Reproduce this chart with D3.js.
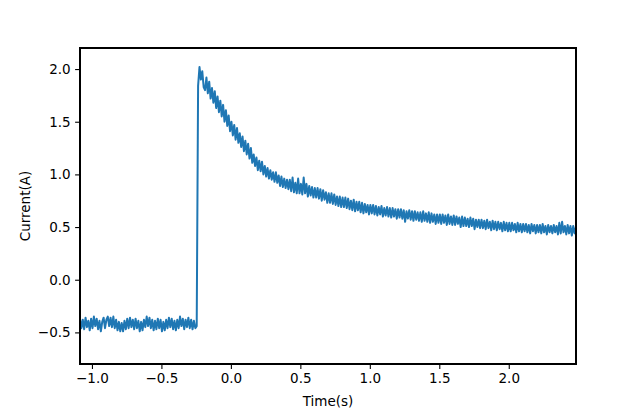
<!DOCTYPE html>
<html>
<head>
<meta charset="utf-8">
<script src="https://cdn.jsdelivr.net/npm/d3@7"></script>
<style>
  html, body { margin: 0; padding: 0; background: #fff; }
  text { font-family: "DejaVu Sans", sans-serif; }
</style>
</head>
<body>
<svg id="chart" width="640" height="409"></svg>
<script>
// ---- data ----
const timeStart = -1.086;   // s, first sample
const sampleStep = 0.01;    // s, sampling interval
const currentValues = [
  -0.37,-0.46,-0.38,-0.47,-0.36,-0.45,-0.39,-0.48,-0.37,-0.46,
  -0.35,-0.44,-0.37,-0.47,-0.39,-0.49,-0.40,-0.36,-0.46,-0.38,
  -0.35,-0.44,-0.36,-0.45,-0.35,-0.46,-0.38,-0.48,-0.40,-0.49,
  -0.41,-0.49,-0.39,-0.47,-0.37,-0.46,-0.36,-0.45,-0.38,-0.47,
  -0.37,-0.46,-0.39,-0.49,-0.40,-0.48,-0.38,-0.45,-0.35,-0.44,
  -0.36,-0.46,-0.38,-0.48,-0.39,-0.47,-0.37,-0.46,-0.38,-0.49,
  -0.40,-0.48,-0.38,-0.46,-0.36,-0.45,-0.37,-0.47,-0.39,-0.48,
  -0.38,-0.46,-0.35,-0.44,-0.37,-0.47,-0.38,-0.45,-0.36,-0.46,
  -0.38,-0.47,-0.39,-0.46,-0.44,
  1.84,2.02,1.90,1.98,1.83,
  1.80,1.92,1.77,1.88,1.72,1.82,1.68,1.79,1.63,1.74,
  1.59,1.70,1.55,1.66,1.50,1.61,1.46,1.56,1.41,1.50,
  1.37,1.47,1.33,1.44,1.30,1.39,1.26,1.36,1.22,1.32,
  1.19,1.29,1.15,1.25,1.11,1.19,1.08,1.16,1.04,1.13,
  1.03,1.12,1.00,1.08,0.98,1.06,0.96,1.04,0.95,1.02,
  0.93,1.02,0.92,0.99,0.89,0.98,0.88,0.96,0.87,0.95,
  0.86,0.95,0.84,0.97,0.83,0.92,0.82,0.96,0.82,0.91,
  0.81,0.97,0.82,0.91,0.79,0.89,0.80,0.88,0.78,0.87,
  0.78,0.87,0.77,0.86,0.75,0.85,0.76,0.83,0.73,0.82,
  0.73,0.82,0.72,0.81,0.71,0.79,0.70,0.79,0.69,0.78,
  0.69,0.78,0.68,0.77,0.67,0.75,0.66,0.76,0.65,0.74,
  0.66,0.74,0.64,0.73,0.63,0.72,0.64,0.71,0.62,0.71,
  0.63,0.71,0.62,0.70,0.61,0.69,0.62,0.70,0.60,0.68,
  0.61,0.69,0.60,0.68,0.59,0.68,0.60,0.67,0.58,0.67,
  0.59,0.67,0.58,0.66,0.55,0.65,0.58,0.66,0.57,0.65,
  0.56,0.65,0.57,0.64,0.56,0.64,0.55,0.65,0.56,0.63,
  0.55,0.64,0.54,0.63,0.55,0.62,0.53,0.62,0.54,0.62,
  0.53,0.62,0.54,0.61,0.52,0.62,0.53,0.60,0.52,0.61,
  0.52,0.60,0.53,0.59,0.50,0.60,0.51,0.59,0.51,0.58,
  0.50,0.59,0.51,0.58,0.48,0.57,0.50,0.57,0.49,0.57,
  0.49,0.56,0.48,0.57,0.49,0.55,0.47,0.56,0.48,0.55,
  0.47,0.55,0.48,0.54,0.46,0.55,0.47,0.54,0.46,0.54,
  0.46,0.54,0.47,0.53,0.45,0.54,0.46,0.53,0.45,0.53,
  0.46,0.53,0.45,0.52,0.44,0.53,0.46,0.52,0.44,0.52,
  0.45,0.52,0.44,0.53,0.45,0.51,0.43,0.52,0.45,0.51,
  0.44,0.52,0.45,0.51,0.43,0.54,0.44,0.55,0.45,0.51,
  0.43,0.52,0.44,0.51,0.42,0.51,0.44,0.50
];
const xTicks = [-1.0, -0.5, 0.0, 0.5, 1.0, 1.5, 2.0];
const yTicks = [-0.5, 0.0, 0.5, 1.0, 1.5, 2.0];
const xDomain = [-1.086, 2.484];
const yDomain = [-0.8, 2.2];
const xLabel = "Time(s)";
const yLabel = "Current(A)";

// ---- layout ----
const W = 640, H = 409;
const m = { left: 80, top: 48, right: 64, bottom: 45 };
const iw = W - m.left - m.right, ih = H - m.top - m.bottom;

const svg = d3.select("#chart");
const g = svg.append("g").attr("transform", `translate(${m.left},${m.top})`);

const x = d3.scaleLinear().domain(xDomain).range([0, iw]);
const y = d3.scaleLinear().domain(yDomain).range([ih, 0]);

const data = currentValues.map((v, i) => ({ t: timeStart + i * sampleStep, v }));

g.append("defs").append("clipPath").attr("id", "clip")
  .append("rect").attr("width", iw).attr("height", ih);

g.append("path")
  .datum(data)
  .attr("clip-path", "url(#clip)")
  .attr("fill", "none")
  .attr("stroke", "#1f77b4")
  .attr("stroke-width", 2.0)
  .attr("stroke-linejoin", "round")
  .attr("d", d3.line().x(d => x(d.t)).y(d => y(d.v)));

const fmt = d3.format(".1f");
const fontSize = "13.5px";

const xAxis = g.append("g").attr("transform", `translate(0,${ih})`)
  .call(d3.axisBottom(x).tickValues(xTicks).tickFormat(fmt).tickSize(4.9).tickPadding(4.5));
const yAxis = g.append("g")
  .call(d3.axisLeft(y).tickValues(yTicks).tickFormat(fmt).tickSize(4.9).tickPadding(4.5));

[xAxis, yAxis].forEach(a => {
  a.select(".domain").remove();
  a.selectAll(".tick line").attr("stroke", "#000").attr("stroke-width", 1.1);
  a.selectAll(".tick text").attr("fill", "#000").style("font-size", fontSize)
    .style("font-family", "'DejaVu Sans', sans-serif");
});

// frame
g.append("rect").attr("width", iw).attr("height", ih)
  .attr("fill", "none").attr("stroke", "#000").attr("stroke-width", 1.1)
  .attr("shape-rendering", "crispEdges");

svg.append("text")
  .attr("x", m.left + iw / 2).attr("y", 406)
  .attr("text-anchor", "middle").style("font-size", fontSize)
  .text(xLabel);

svg.append("text")
  .attr("transform", `translate(30,${m.top + ih / 2}) rotate(-90)`)
  .attr("text-anchor", "middle").style("font-size", fontSize)
  .text(yLabel);
</script>
</body>
</html>
